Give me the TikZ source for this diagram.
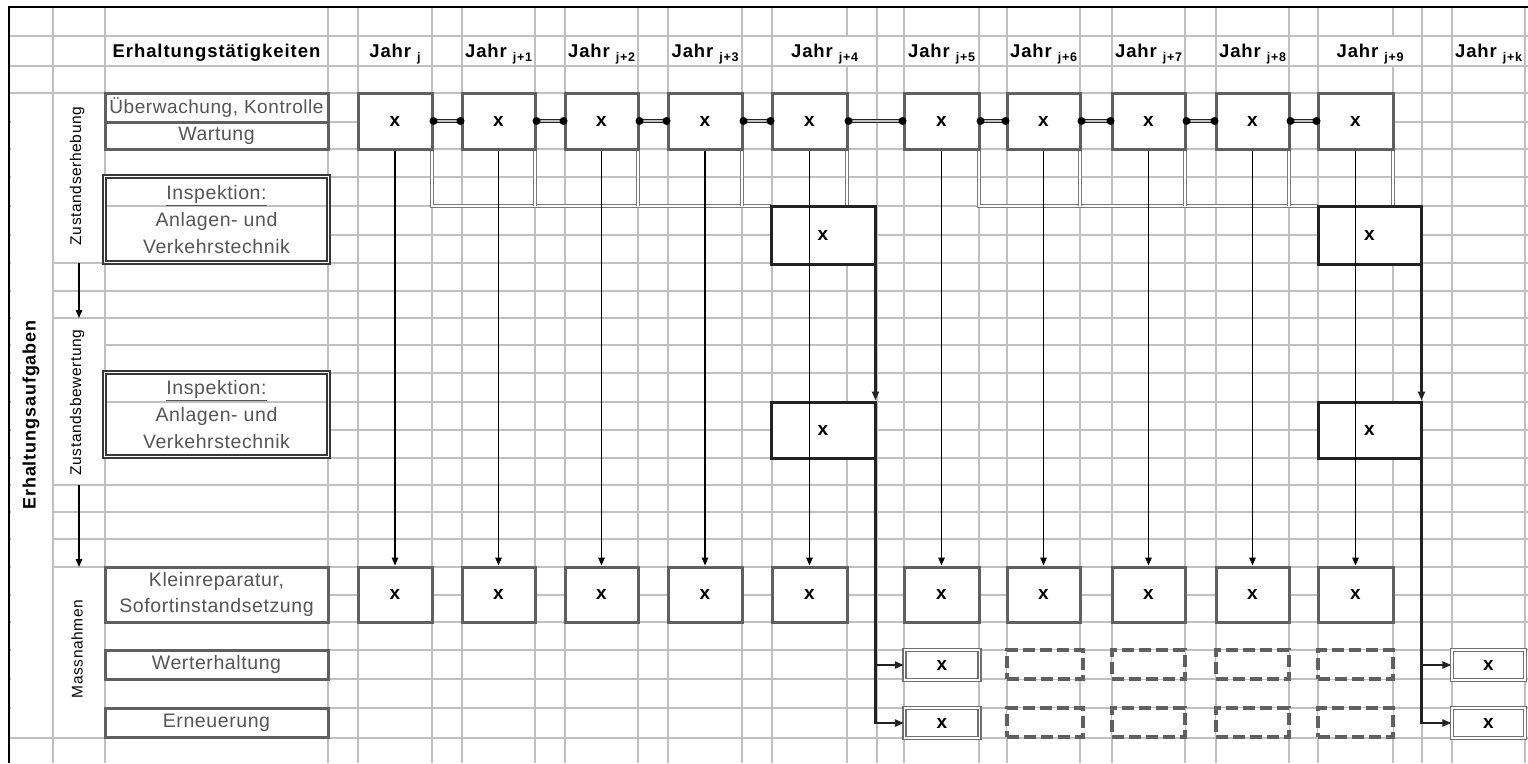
\documentclass[tikz,border=0pt]{standalone}
\usepackage{fontspec}
\setmainfont{Liberation Sans}[LetterSpace=3]
\newfontfamily\bfam{Liberation Sans}[LetterSpace=5]
\newfontfamily\rfam{Liberation Sans}[LetterSpace=4]
\usetikzlibrary{arrows.meta,calc}
\definecolor{gridc}{HTML}{C0C0C0}
\definecolor{boxc}{HTML}{606060}
\definecolor{txtc}{HTML}{555555}
\definecolor{inkc}{HTML}{222222}
\definecolor{combc}{HTML}{7A7A7A}
\newcommand{\myfs}[1]{\fontsize{#1}{#1}\selectfont}
\newcommand{\subj}[1]{\raisebox{-4pt}{\fontsize{12.5}{12.5}\selectfont #1}}
\begin{document}
\begin{tikzpicture}[x=1pt,y=-1pt,
  gridline/.style={gridc, line width=1.8pt},
  ybox/.style={draw=boxc, line width=3pt, fill=white, inner sep=0pt, font=\bfam\bfseries\myfs{19}},
  ibox/.style={draw=inkc, line width=3pt, fill=white, inner sep=0pt, font=\bfam\bfseries\myfs{19}},
  dbox/.style={draw=boxc, line width=3.2pt, dash pattern=on 12pt off 5pt, fill=white, inner sep=0pt},
  wbox/.style={draw=boxc!90, double=white, line width=1.3pt, double distance=1.6pt, fill=white, inner sep=0pt, font=\bfam\bfseries\myfs{19}},
  lbox/.style={draw=boxc, line width=3pt, fill=white, inner sep=0pt, text=txtc, font=\myfs{19.5}},
  ilbox/.style={draw=inkc!90, double=white, line width=1.3pt, double distance=1.5pt, inner sep=0pt, text=txtc, align=center, font=\fontsize{19.5}{27}\selectfont},
  hdr/.style={anchor=base, inner sep=0pt, font=\bfam\bfseries\myfs{18.5}},
  rot/.style={rotate=90, inner sep=0pt, font=\rfam\myfs{15.5}},
  rotb/.style={rotate=90, inner sep=0pt, font=\bfam\bfseries\myfs{18}},
  conn/.style={draw=inkc, line width=1.1pt, double=gridc, double distance=1.6pt},
  comb/.style={draw=combc, line width=1pt, double=white, double distance=1.5pt},
  varr/.style={black, line width=1.4pt, -{Triangle[length=8pt,width=6.5pt]}},
  iarr/.style={inkc, line width=2.4pt, -{Triangle[length=9pt,width=7pt]}}
]
\useasboundingbox (0,0) rectangle (1528,763);
% grid
\foreach \y in {36,66,93,122,149,177,206,235,263,291,318,345,373,402,430,458,485,512,539,567,595,622,650,679,708,738}
  \draw[gridline] (9,\y) -- (1528,\y);
\foreach \x in {53,105,328,358,432,462,535,565,638,668,742,772,847,877,904,979,1007,1080,1112,1185,1216,1289,1318,1393,1422,1452,1525}
  \draw[gridline] (\x,7) -- (\x,763);
% merged cells
\fill[white] (10.5,94.2) rectangle (51.8,736.8);
\fill[white] (54.2,94.2) rectangle (103.8,261.8);
\fill[white] (54.2,319.2) rectangle (103.8,483.8);
\fill[white] (54.2,568.2) rectangle (103.8,736.8);
\fill[white] (773.2,37.2) rectangle (875.8,64.8);
\fill[white] (1319.2,37.2) rectangle (1420.8,64.8);
\fill[white] (107,208) rectangle (326,260);
\fill[white] (107,404) rectangle (326,455);
% border
\draw[black, line width=2.5pt] (9,763) -- (9,7) -- (1528,7);
% headers
\node[hdr] (h0) at (216.5,57) {Erhaltungstätigkeiten};
\foreach \n/\c/\s in {0/395/j, 1/498.5/j+1, 2/601.5/j+2, 3/705/j+3, 4/824.5/j+4, 5/941.5/j+5, 6/1043.5/j+6, 7/1148.5/j+7, 8/1252.5/j+8, 9/1370/j+9, k/1488.5/j+k}
  \node[hdr] (hy\n) at (\c,57) {Jahr \subj{\s}};
% side labels
\node[rotb] (eaf) at (31,415) {Erhaltungsaufgaben};
\node[rot] (zeh) at (77,176) {Zustandserhebung};
\node[rot] (zbw) at (77,402.5) {Zustandsbewertung};
\node[rot] (mas) at (77,649) {Massnahmen};
\coordinate (za1) at (79,263);
\coordinate (za2) at (79,318);
\coordinate (zb1) at (79,485);
\coordinate (zb2) at (79,567);
\draw[varr] (za1) -- (za2);
\draw[varr] (zb1) -- (zb2);
% label boxes
\node[lbox, minimum width=223pt, minimum height=29pt, font=\myfs{19}] (ueb) at (216.5,107.5) {Überwachung, Kontrolle};
\node[lbox, minimum width=223pt, minimum height=27pt] (wart) at (216.5,135.5) {Wartung};
\node[ilbox, minimum width=224pt, minimum height=86pt] (ins1) at (216.5,219.5) {\underline{Inspektion:}\\Anlagen- und\\Verkehrstechnik};
\node[ilbox, minimum width=224pt, minimum height=84pt] (ins2) at (216.5,414.5) {\underline{Inspektion:}\\Anlagen- und\\Verkehrstechnik};
\node[lbox, minimum width=223pt, minimum height=55pt, align=center, font=\fontsize{19.5}{26}\selectfont] (klein) at (216.5,594.5) {Kleinreparatur,\\Sofortinstandsetzung};
\node[lbox, minimum width=223pt, minimum height=29pt] (wert) at (216.5,664.5) {Werterhaltung};
\node[lbox, minimum width=223pt, minimum height=29pt] (ern) at (216.5,722.5) {Erneuerung};
% comb lines
\coordinate (i1aTL) at (771,206);
\coordinate (i1bTL) at (1318,206);
\draw[comb] (432,149) -- (432,206) -- (i1aTL);
\foreach \x in {535,638,742,847} \draw[comb] (\x,149) -- (\x,206);
\draw[comb] (979,149) -- (979,206) -- (i1bTL);
\foreach \x in {1080,1185,1289,1393} \draw[comb] (\x,149) -- (\x,206);
% year boxes
\foreach \n/\c/\w in {0/395/74, 1/498.5/73, 2/601.5/73, 3/705/74, 4/809.5/75, 5/941.5/75, 6/1043.5/73, 7/1148.5/73, 8/1252.5/73, 9/1355.5/75} {
  \node[ybox, minimum width=\w pt, minimum height=56pt] (t\n) at (\c,121) {x};
  \node[ybox, minimum width=\w pt, minimum height=55pt] (k\n) at (\c,594.5) {x};
}
\node[ibox, minimum width=104pt, minimum height=58pt] (i1a) at (823,235) {x};
\node[ibox, minimum width=104pt, minimum height=56pt] (i2a) at (823,430) {x};
\node[ibox, minimum width=103pt, minimum height=58pt] (i1b) at (1369.5,235) {x};
\node[ibox, minimum width=103pt, minimum height=56pt] (i2b) at (1369.5,430) {x};
% measures
\node[wbox, minimum width=75pt, minimum height=30pt] (w5) at (942,665) {x};
\node[wbox, minimum width=75pt, minimum height=30pt] (e5) at (942,723) {x};
\node[wbox, minimum width=73pt, minimum height=30pt] (wk) at (1488.5,665) {x};
\node[wbox, minimum width=73pt, minimum height=30pt] (ek) at (1488.5,723) {x};
\foreach \n/\c/\w in {6/1045/76, 7/1148.5/73, 8/1252.5/73, 9/1355.5/75} {
  \node[dbox, minimum width=\w pt, minimum height=29pt] (dw\n) at (\c,664.5) {};
  \node[dbox, minimum width=\w pt, minimum height=29pt] (de\n) at (\c,722.5) {};
}
% connectors between monitoring boxes
\foreach \a/\b in {0/1,1/2,2/3,3/4,4/5,5/6,6/7,7/8,8/9} {
  \draw[conn] (t\a.east) -- (t\b.west);
  \fill[black] (t\a.east) circle (4pt);
  \fill[black] (t\b.west) circle (4pt);
}
% vertical arrows
\foreach \n in {0,...,9} \draw[varr] (t\n.south) -- (k\n.north);
% inspection arrows
\coordinate (ra1) at ($(i1a.south east)+(-1,0)$);
\coordinate (ra2) at ($(i2a.north east)+(-1,0)$);
\coordinate (ra3) at ($(i2a.south east)+(-1,0)$);
\coordinate (rb1) at ($(i1b.south east)+(-1,0)$);
\coordinate (rb2) at ($(i2b.north east)+(-1,0)$);
\coordinate (rb3) at ($(i2b.south east)+(-1,0)$);
\draw[iarr] (ra1) -- (ra2);
\draw[iarr] (ra3) |- (e5.west);
\draw[iarr] (ra3 |- w5.west) -- (w5.west);
\draw[iarr] (rb1) -- (rb2);
\draw[iarr] (rb3) |- (ek.west);
\draw[iarr] (rb3 |- wk.west) -- (wk.west);
\end{tikzpicture}
\end{document}
